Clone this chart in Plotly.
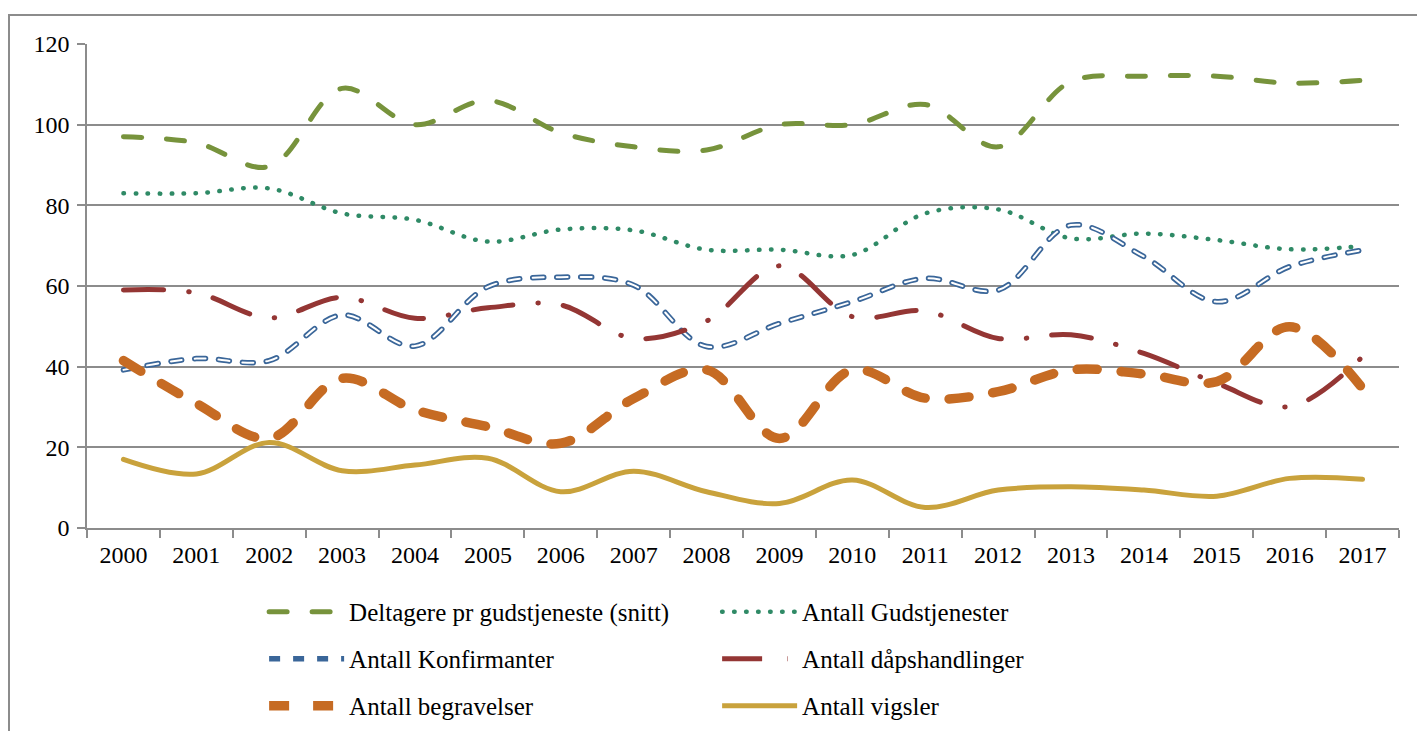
import plotly.graph_objects as go

years = [str(y) for y in range(2000, 2018)]

deltagere = [97, 95.5, 89.6, 109, 100, 106, 98, 94.5, 93.7, 100, 100, 105, 94.5, 110.7, 112, 112, 110.3, 111]
gudstjenester = [83, 83, 84.2, 78, 76.4, 71, 74, 73.8, 69, 69, 67.7, 78, 79, 71.8, 73, 71.4, 69.1, 69.9]
konfirmanter = [39.2, 42, 41.5, 52.8, 45.1, 59.8, 62.2, 60.2, 45, 50.7, 56.1, 61.9, 59, 75.1, 67.3, 56.1, 64.8, 68.9]
daap = [59, 58.3, 52.1, 57.2, 52, 54.6, 55.3, 47, 51.3, 65, 52.4, 53.8, 47, 47.9, 43.3, 35.9, 30.1, 42.5]
begravelser = [41.5, 30.9, 22.2, 37.1, 29.3, 25.1, 21, 32.1, 39.2, 22.2, 39.2, 32.2, 33.8, 39.2, 38.2, 36.3, 49.9, 34.6]
vigsler = [17, 13.4, 21.2, 14.2, 15.6, 17.3, 9, 14.1, 9, 6.1, 11.9, 5.1, 9.4, 10.2, 9.4, 7.9, 12.3, 12.1]

names = ["Deltagere pr gudstjeneste (snitt)", "Antall Gudstjenester", "Antall Konfirmanter",
         "Antall dåpshandlinger", "Antall begravelser", "Antall vigsler"]

FONT = "Liberation Serif"

fig = go.Figure()
fig.add_trace(go.Scatter(x=years, y=deltagere, name=names[0], mode="lines", legend="legend",
                         line=dict(color="#77933C", width=5, dash="18px,25px", shape="spline", smoothing=1)))
fig.add_trace(go.Scatter(x=years, y=gudstjenester, name=names[1], mode="lines", legend="legend",
                         line=dict(color="#2F8A66", width=4.5, dash="0.5px,11.5px", shape="spline", smoothing=1)))
fig.add_trace(go.Scatter(x=years, y=konfirmanter, name=names[2], mode="lines", legend="legend2",
                         line=dict(color="#3A6699", width=5.5, dash="11px,13px", shape="spline", smoothing=1)))
fig.add_trace(go.Scatter(x=years, y=konfirmanter, name=names[2], mode="lines", showlegend=False,
                         hoverinfo="skip",
                         line=dict(color="white", width=2, dash="11px,13px", shape="spline", smoothing=1)))
fig.add_trace(go.Scatter(x=years, y=daap, name=names[3], mode="lines", legend="legend2",
                         line=dict(color="#943634", width=5, dash="40px,25px,0.5px,25px", shape="spline", smoothing=1)))
fig.add_trace(go.Scatter(x=years, y=begravelser, name=names[4], mode="lines", legend="legend3",
                         line=dict(color="#C66B23", width=9.5, dash="20px,24px", shape="spline", smoothing=1)))
fig.add_trace(go.Scatter(x=years, y=vigsler, name=names[5], mode="lines", legend="legend3",
                         line=dict(color="#C9A23C", width=5, shape="spline", smoothing=1)))

grid = "#8C8C8C"
LX = 0.135
ROWS = [-0.126, -0.223, -0.320]


def leg(y):
    return dict(orientation="h", x=LX, xanchor="left", y=y, yanchor="top",
                entrywidth=363, entrywidthmode="pixels", itemwidth=75,
                font=dict(family=FONT, size=25, color="black"),
                bgcolor="rgba(0,0,0,0)")


fig.update_layout(
    width=1417, height=731,
    margin=dict(l=87, r=18, t=44, b=203, autoexpand=False),
    paper_bgcolor="white", plot_bgcolor="white",
    font=dict(family=FONT, size=24, color="black"),
    showlegend=True,
    legend=leg(ROWS[0]),
    legend2=leg(ROWS[1]),
    legend3=leg(ROWS[2]),
    xaxis=dict(type="category", range=[-0.5, 17.5], showline=True, linecolor=grid, linewidth=1.5,
               ticks="outside", tickson="boundaries", ticklen=8, tickcolor=grid, tickwidth=1.5,
               ticklabelstandoff=4,
               showgrid=False, zeroline=False, tickfont=dict(family=FONT, size=24), automargin=False),
    yaxis=dict(range=[0, 120], tickvals=[0, 20, 40, 60, 80, 100, 120], showline=True, linecolor=grid,
               linewidth=1.5, ticks="outside", ticklen=8, tickcolor=grid, tickwidth=1.5,
               ticklabelstandoff=3,
               showgrid=True, gridcolor=grid, gridwidth=1.5, zeroline=False,
               tickfont=dict(family=FONT, size=24), automargin=False),
    shapes=[dict(type="rect", xref="paper", yref="paper",
                 x0=(9 - 87) / 1312, x1=(1430 - 87) / 1312,
                 y0=(528 - 745) / 484, y1=1 + (44 - 15) / 484,
                 line=dict(color=grid, width=2), fillcolor="rgba(0,0,0,0)", layer="below")],
)

post = """
document.body.style.margin = '0';
var gd = document.getElementById('{plot_id}');
gd.querySelectorAll('.scatterlayer path.js-line, .legend path').forEach(function(p){
  p.style.strokeLinecap = 'round';
});
"""
fig.write_html("out.html", post_script=post, config={"displayModeBar": False})
